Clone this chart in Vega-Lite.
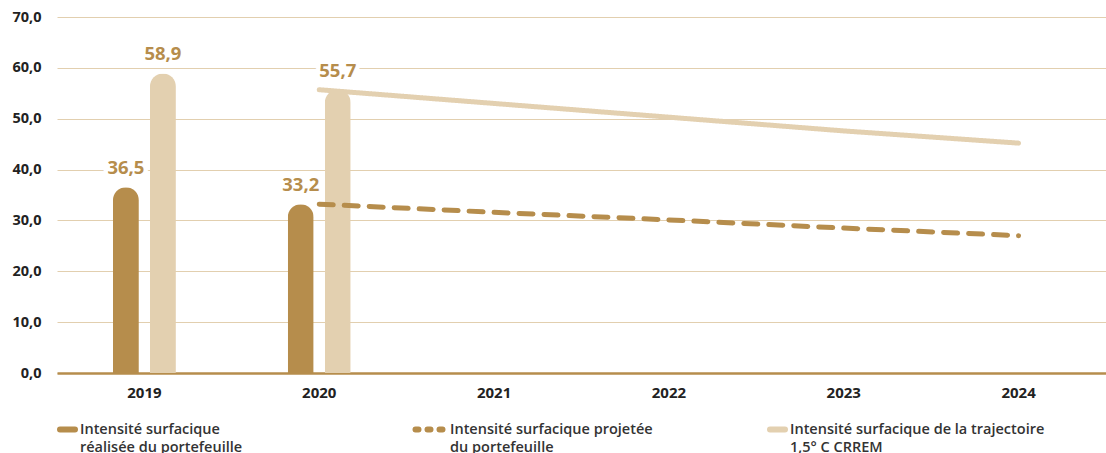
{
  "$schema": "https://vega.github.io/schema/vega-lite/v6.json",
  "width": 1049,
  "height": 356,
  "autosize": {"type": "none"},
  "padding": {"left": 57, "top": 17, "right": 0, "bottom": 80},
  "config": {
    "locale": {"number": {"decimal": ",", "thousands": " ", "grouping": [3], "currency": ["", " €"]}},
    "view": {"stroke": null},
    "font": "Open Sans"
  },
  "datasets": {
    "bars": [
      {"year": "2019", "serie": "realisee", "value": 36.5},
      {"year": "2019", "serie": "trajectoire", "value": 58.9},
      {"year": "2020", "serie": "realisee", "value": 33.2},
      {"year": "2020", "serie": "trajectoire", "value": 55.7}
    ],
    "lines": [
      {"year": "2020", "serie": "projetee", "value": 33.2},
      {"year": "2021", "serie": "projetee", "value": 31.6},
      {"year": "2022", "serie": "projetee", "value": 30.1},
      {"year": "2023", "serie": "projetee", "value": 28.5},
      {"year": "2024", "serie": "projetee", "value": 27.0},
      {"year": "2020", "serie": "trajectoire", "value": 55.7},
      {"year": "2021", "serie": "trajectoire", "value": 53.0},
      {"year": "2022", "serie": "trajectoire", "value": 50.3},
      {"year": "2023", "serie": "trajectoire", "value": 47.6},
      {"year": "2024", "serie": "trajectoire", "value": 45.2}
    ]
  },
  "encoding": {
    "x": {
      "field": "year",
      "type": "nominal",
      "scale": {"domain": ["2019", "2020", "2021", "2022", "2023", "2024"], "paddingInner": 0.64, "paddingOuter": 0.32},
      "axis": {
        "title": null,
        "labelAngle": 0,
        "labelFont": "Open Sans",
        "labelFontSize": 15,
        "labelFontWeight": "bold",
        "labelColor": "#222222",
        "labelPadding": 12,
        "ticks": false,
        "grid": false,
        "domainColor": "#B68D4C",
        "domainWidth": 2.5
      }
    },
    "y": {
      "field": "value",
      "type": "quantitative",
      "scale": {"domain": [0, 70], "nice": false},
      "axis": {
        "title": null,
        "values": [0, 10, 20, 30, 40, 50, 60, 70],
        "format": ".1f",
        "labelFont": "Open Sans",
        "labelFontSize": 14.5,
        "labelFontWeight": "bold",
        "labelColor": "#222222",
        "labelPadding": 16,
        "ticks": false,
        "domain": false,
        "gridColor": "#E2CFAF",
        "gridWidth": 1
      }
    },
    "color": {
      "field": "serie",
      "type": "nominal",
      "scale": {"domain": ["realisee", "projetee", "trajectoire"], "range": ["#B68D4C", "#B68D4C", "#E3D0B0"]},
      "legend": {
        "title": null,
        "orient": "none",
        "legendX": 0,
        "legendY": 402,
        "direction": "horizontal",
        "columns": 3,
        "gridAlign": "all",
        "columnPadding": 68,
        "padding": 0,
        "symbolType": "stroke",
        "symbolSize": 225,
        "symbolStrokeWidth": 6,
        "labelOffset": 2,
        "labelLimit": 400,
        "labelFont": "Open Sans",
        "labelFontSize": 14.5,
        "labelFontWeight": 600,
        "labelColor": "#333333",
        "labelBaseline": "middle",
        "labelExpr": "datum.value == 'realisee' ? ['Intensité surfacique', 'réalisée du portefeuille'] : datum.value == 'projetee' ? ['Intensité surfacique projetée', 'du portefeuille'] : ['Intensité surfacique de la trajectoire', '1,5° C CRREM']",
        "encode": {
          "symbols": {
            "update": {
              "stroke": {"scale": "color", "field": "value"},
              "fill": {"value": "transparent"},
              "strokeWidth": {"value": 6},
              "strokeCap": {"value": "round"},
              "strokeDash": {"signal": "datum.value === 'projetee' ? [3, 9] : [1, 0]"},
              "shape": {"value": "stroke"},
              "size": {"signal": "datum.value === 'projetee' ? 729 : 225"},
              "x": {"signal": "datum.value === 'projetee' ? 17 : 10.5"},
              "opacity": {"value": 1}
            }
          },
          "labels": {
            "update": {
              "lineHeight": {"value": 18},
              "dx": {"signal": "datum.value === 'projetee' ? 15 : 0"}
            }
          }
        }
      }
    }
  },
  "layer": [
    {
      "data": {"name": "bars"},
      "mark": {"type": "bar", "width": 26, "cornerRadiusTopLeft": 13, "cornerRadiusTopRight": 13},
      "encoding": {
        "xOffset": {"field": "serie", "type": "nominal", "scale": {"domain": ["realisee", "trajectoire"], "paddingInner": 0.3}}
      }
    },
    {
      "data": {"name": "lines"},
      "mark": {"type": "line", "strokeWidth": 5, "strokeCap": "round"},
      "encoding": {
        "strokeDash": {
          "field": "serie",
          "type": "nominal",
          "scale": {"domain": ["projetee", "trajectoire"], "range": [[14, 11], [1, 0]]},
          "legend": null
        }
      }
    },
    {
      "data": {"name": "bars"},
      "mark": {"type": "text", "dy": -13, "baseline": "alphabetic", "fontSize": 18.5, "fontWeight": "bold", "font": "Open Sans", "stroke": "white", "strokeWidth": 9, "strokeJoin": "round"},
      "encoding": {
        "xOffset": {"field": "serie", "type": "nominal", "scale": {"domain": ["realisee", "trajectoire"], "paddingInner": 0.3}},
        "text": {"field": "value", "type": "quantitative", "format": ".1f"},
        "color": {"value": "white"}
      }
    },
    {
      "data": {"name": "bars"},
      "mark": {"type": "text", "dy": -13, "baseline": "alphabetic", "fontSize": 18.5, "fontWeight": "bold", "font": "Open Sans"},
      "encoding": {
        "xOffset": {"field": "serie", "type": "nominal", "scale": {"domain": ["realisee", "trajectoire"], "paddingInner": 0.3}},
        "text": {"field": "value", "type": "quantitative", "format": ".1f"},
        "color": {"value": "#B68D4C"}
      }
    }
  ]
}
